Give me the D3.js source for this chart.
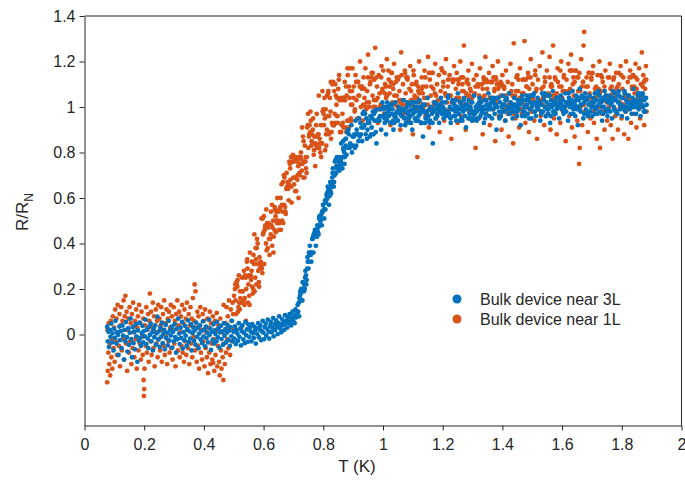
<!DOCTYPE html>
<html>
<head>
<meta charset="utf-8">
<script src="https://cdn.jsdelivr.net/npm/d3@7"></script>
<style>
  body { margin: 0; background: #fff; }
  svg { font-family: "Liberation Sans", Arial, Helvetica, sans-serif; }
</style>
</head>
<body>
<svg id="chart"></svg>
<script>
// tick values / labels
const xTicks = [0, 0.2, 0.4, 0.6, 0.8, 1, 1.2, 1.4, 1.6, 1.8, 2];
const yTicks = [0, 0.2, 0.4, 0.6, 0.8, 1, 1.2, 1.4];
const seriesNames = ['Bulk device near 3L', 'Bulk device near 1L'];
const seriesColors = ['#0072BD', '#D95319'];

// [T (K), R/RN], device near 3L
const near3L = [
  [.076,.034],[.078,-.03],[.080,.012],[.082,-.055],[.085,.02],[.087,-.01],[.090,.048],[.092,-.035],[.094,.005],[.097,-.07],[.099,.025],[.102,-.015],[.104,.06],[.107,-.04],[.109,.01],[.112,-.002],[.114,-.09],[.117,.035],[.119,-.025],[.122,.015],[.124,-.06],[.127,.04],[.129,-.005],[.132,-.11],[.134,.02],[.137,-.03],[.139,.055],[.142,-.012],[.144,-.075],[.147,.028],[.149,-.045],[.152,.008],[.154,.07],[.157,-.02],[.159,-.1],[.162,.032],[.164,-.038],[.167,.012],[.169,-.065],[.172,.045],[.174,-.008],[.177,-.12],[.179,.018],[.182,-.028],[.184,.052],[.187,-.015],[.189,-.05],[.192,.006],[.194,.038],[.197,-.035],[.199,.015],
  [.202,-.008],[.204,.065],[.207,-.042],[.209,.022],[.212,-.018],[.214,-.06],[.217,.035],[.219,-.002],[.222,.048],[.224,-.03],[.227,.01],[.229,-.07],[.232,.025],[.234,-.012],[.237,.04],[.239,-.045],[.242,.005],[.244,.078],[.247,-.022],[.249,.014],[.252,-.055],[.254,.03],[.257,-.01],[.259,.052],[.262,-.038],[.264,.002],[.267,.02],[.269,-.065],[.272,.042],[.274,-.016],[.277,.008],[.279,-.048],[.282,.06],[.284,-.026],[.287,.018],[.289,-.004],[.292,.034],[.294,-.058],[.297,.012],[.299,-.03],
  [.302,.045],[.304,-.012],[.307,-.08],[.309,.025],[.312,-.02],[.314,.07],[.317,.004],[.319,-.042],[.322,.03],[.324,-.015],[.327,.055],[.329,-.062],[.332,.01],[.334,-.025],[.337,.038],[.339,-.005],[.342,-.05],[.344,.022],[.347,.062],[.349,-.034],[.352,.014],[.354,-.018],[.357,.046],[.359,-.07],[.362,.006],[.364,.032],[.367,-.028],[.369,.018],[.372,-.045],[.374,.052],[.377,-.01],[.379,.028],[.382,-.06],[.384,.004],[.387,.04],[.389,-.022],[.392,.015],[.394,-.038],[.397,.058],[.399,-.008],
  [.402,.022],[.404,-.052],[.407,.034],[.409,-.015],[.412,.008],[.414,-.035],[.417,.065],[.419,-.002],[.422,.026],[.424,-.068],[.427,.012],[.429,-.024],[.432,.045],[.434,-.04],[.437,.018],[.439,.002],[.442,-.03],[.444,.055],[.447,-.012],[.449,.028],[.452,-.058],[.454,.01],[.457,.038],[.459,-.02],[.462,.014],[.464,-.045],[.467,.05],[.469,-.005],[.472,.024],[.474,-.035],[.477,.008],[.479,.042],[.482,-.025],[.484,.016],[.487,-.05],[.489,.032],[.492,-.008],[.494,.06],[.497,-.03],[.499,.012],
  [.502,-.018],[.504,.036],[.507,-.042],[.509,.02],[.512,.004],[.514,-.028],[.517,.05],[.519,-.01],[.522,.026],[.524,-.048],[.527,.014],[.529,.04],[.532,-.022],[.534,.008],[.537,-.038],[.539,.055],[.542,-.004],[.544,.022],[.547,-.032],[.549,.044],
  [.552,-.01],[.554,.03],[.557,.012],[.559,-.03],[.562,.045],[.564,.005],[.567,-.015],[.569,.035],[.572,.018],[.574,-.04],[.577,.028],[.579,.002],[.582,.05],[.584,-.012],[.587,.022],[.589,.04],[.592,-.025],[.594,.015],[.597,.06],[.599,.008],[.602,-.02],[.604,.032],[.607,.048],[.609,-.005],[.612,.025],[.614,.065],[.617,.012],[.619,-.018],[.622,.038],[.624,.055],[.627,.01],[.629,.03],[.632,.072],[.634,-.008],[.637,.045],[.639,.02],[.642,.062],[.644,.035],[.647,.002],[.649,.05],
  [.652,.08],[.654,.028],[.657,.045],[.659,.01],[.662,.068],[.664,.04],[.667,.055],[.669,.02],[.672,.085],[.674,.048],[.677,.062],[.679,.03],[.682,.075],[.684,.05],[.687,.09],[.689,.058],[.692,.04],[.694,.072],[.697,.1],[.699,.06],[.702,.082],[.704,.05],[.707,.11],[.709,.075],[.712,.095],[.714,.13],[.716,.1],
  [.718,.14],[.720,.16],[.722,.17],[.724,.18],[.726,.20],[.728,.19],[.730,.15],[.732,.20],[.734,.20],[.736,.22],[.738,.20],[.740,.28],[.742,.26],[.744,.24],[.746,.29],[.748,.32],[.750,.29],[.752,.36],[.754,.35],[.756,.36],
  [.758,.35],[.760,.32],[.762,.36],[.764,.42],[.766,.43],[.768,.44],[.770,.43],[.772,.46],[.774,.45],[.776,.46],[.778,.46],[.780,.48],[.782,.45],[.784,.44],[.786,.51],[.788,.48],[.790,.50],[.792,.51],[.794,.53],[.796,.54],
  [.798,.54],[.800,.57],[.802,.55],[.804,.55],[.806,.59],[.808,.58],[.810,.59],[.812,.62],[.814,.60],[.816,.63],[.818,.64],[.820,.62],[.822,.61],[.824,.63],[.826,.62],[.828,.65],[.830,.69],[.832,.73],[.834,.67],[.836,.67],
  [.838,.70],[.840,.71],[.842,.77],[.844,.74],[.846,.78],[.848,.74],[.850,.76],[.852,.74],[.854,.72],[.856,.75],[.858,.76],[.860,.84],[.862,.75],[.864,.73],[.866,.85],[.868,.81],[.870,.80],[.872,.78],[.874,.86],[.876,.86],
  [.878,.79],[.880,.89],[.882,.82],[.884,.90],[.886,.88],[.888,.82],[.890,.84],[.892,.83],[.894,.92],[.896,.80],[.898,.87],[.900,.83],[.902,.87],[.904,.88],[.906,.82],[.908,.94],[.910,.83],[.912,.90],[.914,.88],[.916,.88],
  [.918,.85],[.920,.95],[.922,.87],[.924,.93],[.926,.88],[.928,.91],[.930,.85],[.932,.97],[.934,.91],[.936,.98],[.938,.92],[.940,.97],[.942,.88],[.944,.95],[.946,.86],[.948,.90],[.950,.93],[.952,.94],[.954,.93],[.956,.87],
  [.958,.96],[.960,.88],[.962,.91],[.964,.95],[.966,.98],[.968,.88],[.970,.97],[.972,.94],[.974,.98],[.976,.89],[.978,.99],[.978,.84],[.980,.94],[.982,.94],[.984,.94],[.986,.95],[.988,.94],[.990,.96],[.992,.99],[.994,.90],[.996,.96],[.998,1.02],
  [1.002,.99],[1.005,.95],[1.008,.97],[1.010,.88],[1.011,1.0],[1.014,.94],[1.017,.98],[1.020,.96],[1.023,1.01],[1.026,.93],[1.029,.97],[1.032,.99],[1.035,.9],[1.038,.96],[1.041,1.02],[1.044,.95],[1.047,.98],[1.050,.94],[1.053,1.0],[1.056,.97],[1.059,.92],[1.062,.99],[1.065,.96],[1.068,1.03],[1.071,.95],[1.074,.98],[1.077,.93],[1.080,1.0],[1.083,.97],[1.086,.95],[1.089,1.01],[1.092,.96],[1.095,.99],[1.098,.9],
  [1.101,.97],[1.104,1.02],[1.107,.95],[1.110,.98],[1.113,.94],[1.116,1.0],[1.119,.96],[1.122,1.03],[1.125,.97],[1.128,.93],[1.131,.99],[1.134,.87],[1.137,.98],[1.140,1.01],[1.143,.95],[1.146,.97],[1.149,1.04],[1.152,.96],[1.155,.99],[1.158,.94],[1.161,1.0],[1.164,.97],[1.167,.84],[1.170,.98],[1.173,1.02],[1.176,.95],[1.179,.99],[1.182,.96],[1.185,1.01],[1.188,.93],[1.191,.98],[1.194,1.04],[1.197,.97],
  [1.200,1.0],[1.203,.95],[1.206,.99],[1.209,1.02],[1.212,.96],[1.215,.98],[1.218,1.05],[1.221,.97],[1.224,1.0],[1.227,.93],[1.230,.99],[1.233,1.03],[1.236,.96],[1.239,1.01],[1.242,.98],[1.245,.94],[1.248,1.0],[1.251,1.06],[1.254,.97],[1.257,.99],[1.260,1.02],[1.263,.95],[1.266,1.0],[1.269,.98],[1.272,1.04],[1.275,.96],[1.278,.91],[1.281,1.01],[1.284,.99],[1.287,1.03],[1.290,.97],[1.293,1.0],[1.296,.95],[1.299,1.02],
  [1.302,.98],[1.305,1.05],[1.308,.97],[1.311,1.0],[1.314,.94],[1.317,1.01],[1.320,.99],[1.323,1.04],[1.326,.96],[1.329,1.02],[1.332,.98],[1.335,1.0],[1.338,.93],[1.341,1.03],[1.344,.97],[1.347,1.01],[1.350,.99],[1.353,1.06],[1.356,.96],[1.359,1.0],[1.362,1.02],[1.365,.95],[1.368,.99],[1.371,1.03],[1.374,.97],[1.377,1.01],[1.380,.9],[1.383,1.0],[1.386,1.04],[1.389,.98],[1.392,1.02],[1.395,.96],[1.398,1.0],
  [1.401,1.05],[1.404,.98],[1.407,1.01],[1.410,.94],[1.413,1.03],[1.416,.99],[1.419,1.0],[1.422,1.06],[1.425,.97],[1.428,1.02],[1.431,.99],[1.434,.95],[1.437,1.01],[1.440,1.04],[1.443,.98],[1.446,1.0],[1.449,.96],[1.452,1.03],[1.455,.99],[1.458,1.01],[1.461,.92],[1.464,1.02],[1.467,1.05],[1.470,.98],[1.473,1.0],[1.476,.96],[1.479,1.03],[1.482,1.01],[1.485,.97],[1.488,1.04],[1.491,.99],[1.494,1.02],[1.497,.95],
  [1.500,1.01],[1.503,1.05],[1.506,.98],[1.509,1.02],[1.512,.96],[1.515,1.0],[1.518,1.04],[1.521,.99],[1.524,1.02],[1.527,.94],[1.530,1.01],[1.533,1.06],[1.536,.98],[1.539,1.03],[1.542,1.0],[1.545,.96],[1.548,1.02],[1.551,1.05],[1.554,.99],[1.557,1.01],[1.560,.93],[1.563,1.03],[1.566,1.0],[1.569,1.07],[1.572,.98],[1.575,1.02],[1.578,.97],[1.581,1.04],[1.584,1.0],[1.587,1.02],[1.590,.95],[1.593,1.01],[1.596,1.05],[1.599,.99],
  [1.602,1.03],[1.605,.97],[1.608,1.0],[1.611,1.06],[1.614,.98],[1.617,1.02],[1.620,.94],[1.623,1.04],[1.626,1.0],[1.629,.97],[1.632,1.03],[1.635,1.07],[1.638,.99],[1.641,1.02],[1.644,.96],[1.647,1.05],[1.650,1.0],[1.653,.92],[1.656,1.03],[1.659,1.08],[1.662,.98],[1.665,1.01],[1.668,1.04],[1.671,.95],[1.674,1.02],[1.677,1.06],[1.680,.99],[1.683,1.03],[1.686,.97],[1.689,1.01],[1.692,1.05],[1.695,.98],[1.698,1.02],
  [1.701,.96],[1.704,1.04],[1.707,1.0],[1.710,1.06],[1.713,.99],[1.716,1.03],[1.719,.97],[1.722,1.01],[1.725,1.05],[1.728,.98],[1.731,1.02],[1.734,.94],[1.737,1.04],[1.740,1.0],[1.743,1.07],[1.746,.99],[1.749,1.03],[1.752,.96],[1.755,1.02],[1.758,1.05],[1.761,.98],[1.764,1.01],[1.767,.95],[1.770,1.04],[1.773,1.0],[1.776,1.06],[1.779,.98],[1.782,1.03],[1.785,.97],[1.788,1.02],[1.791,1.05],[1.794,.99],[1.797,1.01],
  [1.800,.96],[1.803,1.04],[1.806,1.0],[1.809,1.07],[1.812,.98],[1.815,1.03],[1.818,.95],[1.821,1.02],[1.824,1.05],[1.827,.99],[1.830,1.01],[1.833,.97],[1.836,1.04],[1.839,1.08],[1.842,1.0],[1.845,1.03],[1.848,.97],[1.851,1.02],[1.854,1.06],[1.857,.99],[1.860,1.03],[1.863,.96],[1.866,1.01],[1.869,1.05],[1.872,1.0],[1.875,1.03],[1.878,.98],[1.881,1.04],[1.883,1.01],
  // second sweep, transition
  [.719,.08],[.723,.19],[.727,.15],[.731,.23],[.735,.19],[.739,.25],[.743,.22],[.747,.34],[.751,.32],[.755,.39],[.759,.36],[.763,.42],[.767,.36],[.771,.45],[.775,.39],[.779,.43],[.783,.47],[.787,.52],[.791,.50],[.795,.48],
  [.799,.57],[.803,.51],[.807,.55],[.811,.61],[.815,.65],[.819,.57],[.823,.67],[.827,.66],[.831,.71],[.835,.65],[.839,.76],[.843,.71],[.847,.73],[.851,.73],[.855,.78],[.859,.77],[.863,.78],[.867,.82],[.871,.75],[.875,.83],
  // second sweep, normal state
  [1.002,1.00],[1.006,.93],[1.010,.95],[1.014,1.02],[1.018,1.00],[1.022,.99],[1.026,.93],[1.030,1.01],[1.034,.94],[1.038,.93],[1.042,.97],[1.046,.94],[1.050,.98],[1.054,.98],[1.058,.98],[1.062,.96],[1.066,.99],[1.070,.99],[1.074,.92],[1.078,.95],
  [1.082,1.02],[1.086,.98],[1.090,.93],[1.094,.93],[1.098,1.02],[1.102,.98],[1.106,1.00],[1.110,.94],[1.114,1.02],[1.118,.94],[1.122,.98],[1.126,1.00],[1.130,.93],[1.134,1.01],[1.138,.98],[1.142,.93],[1.146,.98],[1.150,.96],[1.154,.94],[1.158,.93],
  [1.162,.99],[1.166,.93],[1.170,.99],[1.174,1.02],[1.178,1.01],[1.182,.97],[1.186,.99],[1.190,.98],[1.194,1.00],[1.198,1.02],[1.202,.98],[1.206,.97],[1.210,.97],[1.214,.97],[1.218,1.04],[1.222,.96],[1.226,.95],[1.230,.99],[1.234,1.02],[1.238,.99],
  [1.242,.96],[1.246,1.03],[1.250,.99],[1.254,.97],[1.258,.94],[1.262,1.01],[1.266,.94],[1.270,1.03],[1.274,.99],[1.278,1.01],[1.282,1.01],[1.286,.95],[1.290,.95],[1.294,.99],[1.298,.94],[1.302,.97],[1.306,.95],[1.310,.98],[1.314,.98],[1.318,.95],
  [1.322,1.02],[1.326,1.00],[1.330,.97],[1.334,.99],[1.338,.99],[1.342,.95],[1.346,1.03],[1.350,.99],[1.354,1.01],[1.358,.99],[1.362,1.04],[1.366,1.02],[1.370,1.04],[1.374,1.01],[1.378,1.00],[1.382,1.04],[1.386,1.04],[1.390,.95],[1.394,.96],[1.398,.98],
  [1.402,1.01],[1.406,.98],[1.410,1.03],[1.414,1.04],[1.418,.99],[1.422,.97],[1.426,1.00],[1.430,1.00],[1.434,1.00],[1.438,.98],[1.442,1.01],[1.446,1.00],[1.450,.98],[1.454,1.01],[1.458,1.02],[1.462,1.03],[1.466,.96],[1.470,1.03],[1.474,.98],[1.478,1.00],
  [1.482,1.05],[1.486,1.03],[1.490,.95],[1.494,1.05],[1.498,1.00],[1.502,1.05],[1.506,1.06],[1.510,.98],[1.514,1.01],[1.518,1.02],[1.522,1.02],[1.526,1.01],[1.530,.97],[1.534,.98],[1.538,1.05],[1.542,1.06],[1.546,.96],[1.550,.99],[1.554,.97],[1.558,1.05],
  [1.562,.96],[1.566,1.01],[1.570,.98],[1.574,.97],[1.578,1.01],[1.582,.99],[1.586,1.04],[1.590,1.00],[1.594,1.02],[1.598,1.01],[1.602,1.03],[1.606,.99],[1.610,.98],[1.614,1.02],[1.618,1.01],[1.622,1.06],[1.626,1.02],[1.630,1.01],[1.634,1.00],[1.638,.97],
  [1.642,1.01],[1.646,1.03],[1.650,.99],[1.654,1.04],[1.658,.99],[1.662,1.01],[1.666,1.05],[1.670,1.04],[1.674,.97],[1.678,1.04],[1.682,1.04],[1.686,.96],[1.690,.98],[1.694,.98],[1.698,1.00],[1.702,1.00],[1.706,1.02],[1.710,.97],[1.714,1.00],[1.718,1.06],
  [1.722,1.07],[1.726,.98],[1.730,1.03],[1.734,1.00],[1.738,.97],[1.742,1.03],[1.746,1.05],[1.750,.98],[1.754,.99],[1.758,1.03],[1.762,1.02],[1.766,1.02],[1.770,1.07],[1.774,.99],[1.778,1.03],[1.782,.98],[1.786,1.05],[1.790,1.07],[1.794,1.01],[1.798,1.04],
  [1.802,1.04],[1.806,.99],[1.810,1.06],[1.814,1.00],[1.818,1.02],[1.822,1.05],[1.826,1.00],[1.830,1.01],[1.834,1.02],[1.838,1.00],[1.842,1.02],[1.846,1.01],[1.850,1.00],[1.854,1.05],[1.858,1.06],[1.862,1.01],[1.866,1.03],[1.870,1.06],[1.874,.98],[1.878,.98]
];

// [T (K), R/RN], device near 1L
const near1L = [
  [.076,-.21],[.077,.02],[.078,-.16],[.080,-.08],[.081,.05],[.083,-.13],[.085,-.04],[.086,-.18],[.088,.06],[.090,-.1],[.091,-.02],[.093,-.15],[.095,.08],[.097,-.06],[.099,.03],[.101,-.12],[.103,.11],[.105,-.03],[.107,.07],[.109,-.09],[.111,.13],[.113,.01],[.115,-.05],[.117,.09],[.119,-.14],[.121,.04],[.123,.12],[.125,-.07],[.127,.06],[.129,-.02],[.131,.15],[.133,-.11],[.135,.08],[.137,.17],[.139,-.04],[.141,.1],[.143,-.16],[.145,.02],[.147,.07],[.149,-.08],
  [.151,.12],[.153,-.03],[.155,.05],[.157,-.13],[.159,.09],[.161,-.06],[.163,.14],[.165,.01],[.167,-.1],[.169,.06],[.171,-.02],[.173,.11],[.175,-.15],[.177,.03],[.179,.08],[.181,-.07],[.183,.13],[.185,-.04],[.187,.05],[.189,-.11],[.191,.1],[.193,-.01],[.195,-.09],[.197,.07],[.198,-.2],[.199,-.27],[.200,-.24],[.201,-.15],
  [.203,.04],[.205,-.05],[.207,.12],[.209,-.08],[.211,.02],[.213,.09],[.215,-.12],[.217,.06],[.219,.18],[.221,-.03],[.223,.1],[.225,-.09],[.227,.03],[.229,.14],[.231,-.06],[.233,.08],[.235,-.14],[.237,.01],[.239,.11],[.241,-.04],[.243,.06],[.245,-.1],[.247,.13],[.249,-.02],[.251,.07],[.253,-.07],[.255,.04],[.257,.12],[.259,-.12],[.261,.02],[.263,.09],[.265,-.05],[.267,.15],[.269,-.09],[.271,.05],[.273,-.01],[.275,.11],[.277,-.13],[.279,.07],[.281,-.03],[.283,.1],[.285,-.08],[.287,.03],[.289,.13],[.291,-.06],[.293,.08],[.295,-.11],[.297,.02],[.299,.12],
  [.301,-.04],[.303,.06],[.305,-.14],[.307,.09],[.309,-.02],[.311,.15],[.313,-.07],[.315,.04],[.317,.1],[.319,-.1],[.321,.01],[.323,.08],[.325,-.05],[.327,.13],[.329,-.08],[.331,.05],[.333,-.12],[.335,.11],[.337,-.03],[.339,.07],[.341,-.09],[.343,.14],[.345,.02],[.347,-.06],[.349,.09],[.351,-.13],[.353,.04],[.355,.12],[.357,-.04],[.359,.07],[.361,-.1],[.363,.16],[.365,-.01],[.367,.06],[.369,.22],[.371,-.07],[.372,.19],[.374,.03],[.376,-.12],[.378,.1],[.380,-.05],[.382,.08],[.384,-.15],[.386,.04],[.388,.12],[.390,-.08],[.392,.02],[.394,-.11],[.396,.09],[.398,-.03],
  [.400,.06],[.402,-.14],[.404,.11],[.406,-.06],[.408,.01],[.410,-.1],[.412,.07],[.414,-.17],[.416,.03],[.418,-.08],[.420,.1],[.422,-.13],[.424,.05],[.426,-.04],[.428,-.11],[.430,.08],[.431,-.125],[.433,-.02],[.435,-.16],[.437,.06],[.439,-.09],[.441,.02],[.443,.095],[.445,-.14],[.447,-.05],[.449,.04],[.451,-.12],[.453,-.18],[.455,.07],[.457,-.07],[.459,-.15],[.461,.01],[.463,-.1],[.465,-.2],[.466,.13],[.468,-.04],[.470,-.13],[.472,.05],[.474,-.08],[.476,.12],[.478,-.02],[.480,.08],[.482,-.06],[.484,.15],[.486,.03],[.488,-.09],[.490,.11],[.492,.06],[.494,-.03],[.496,.14],[.498,.09],
  [.500,.02],[.502,.03],[.504,.20],[.506,.15],[.508,.09],[.510,.22],[.512,.21],[.514,.10],[.516,.12],[.518,.14],[.520,.11],[.522,.16],[.524,.14],[.526,.14],[.528,.25],[.530,.19],[.532,.14],[.534,.28],[.536,.13],[.538,.26],
  [.540,.25],[.542,.20],[.544,.32],[.546,.29],[.548,.14],[.550,.26],[.552,.17],[.554,.36],[.556,.25],[.558,.24],[.560,.28],[.562,.21],[.564,.18],[.566,.35],[.568,.31],[.570,.19],[.572,.25],[.574,.33],[.576,.22],[.578,.42],
  [.580,.40],[.582,.28],[.584,.23],[.586,.34],[.588,.29],[.590,.32],[.592,.30],[.594,.29],[.596,.27],[.598,.44],[.600,.45],[.602,.31],[.604,.46],[.606,.48],[.608,.40],[.610,.37],[.612,.49],[.614,.38],[.616,.47],[.618,.42],
  [.620,.35],[.622,.42],[.624,.44],[.626,.48],[.628,.57],[.630,.47],[.632,.50],[.634,.43],[.636,.46],[.638,.55],[.640,.52],[.642,.54],[.644,.50],[.646,.60],[.648,.49],[.650,.54],[.652,.46],[.654,.49],[.656,.56],[.658,.46],
  [.660,.66],[.662,.50],[.664,.54],[.666,.49],[.668,.70],[.670,.69],[.672,.56],[.674,.53],[.676,.64],[.678,.65],[.680,.67],[.682,.64],[.684,.59],[.686,.76],[.688,.75],[.690,.68],[.692,.78],[.694,.58],[.696,.76],[.698,.79],
  [.700,.69],[.702,.66],[.704,.78],[.706,.63],[.708,.78],[.710,.77],[.712,.76],[.714,.70],[.716,.74],[.718,.78],[.720,.71],[.722,.75],[.724,.78],[.726,.77],[.728,.72],[.730,.75],[.732,.87],[.734,.85],[.736,.76],[.738,.83],
  [.740,.76],[.742,.73],[.744,.71],[.746,.91],[.748,.92],[.750,.82],[.752,.87],[.754,.92],[.756,.89],[.758,.94],[.760,.83],[.762,.88],[.764,.84],[.766,.95],[.768,.79],[.770,.87],[.772,.87],[.774,.84],[.776,.92],[.778,.97],
  [.780,.82],[.782,.88],[.784,.88],[.786,.82],[.788,.86],[.790,.80],[.792,.92],[.794,.84],[.796,.84],[.798,.98],[.800,.99],[.802,.92],[.804,1.04],[.806,.81],[.808,.99],[.810,.83],[.812,.90],[.814,.96],[.816,1.06],[.818,.88],
  [.820,.96],[.822,1.04],[.824,.98],[.826,.86],[.828,.89],[.830,1.10],[.832,.92],[.834,.92],[.836,.92],[.838,.97],[.840,1.10],[.842,1.05],[.844,1.01],[.846,1.04],[.848,.96],[.850,1.08],[.852,1.12],[.854,1.03],[.856,.89],[.858,1.04],
  [.860,.89],[.862,.92],[.864,.97],[.866,1.04],[.868,.91],[.870,1.03],[.872,1.11],[.874,.91],[.876,1.09],[.878,1.05],[.880,.94],[.882,1.14],[.884,.94],[.886,1.09],[.888,1.04],[.890,1.17],[.892,.95],[.894,.94],[.896,1.07],[.898,1.17],
  [.902,1.09],[.905,.98],[.908,1.14],[.911,1.03],[.914,.95],[.917,1.11],[.920,1.05],[.923,1.2],[.926,1.0],[.929,1.08],[.932,.94],[.935,1.13],[.938,1.04],[.941,1.17],[.944,.99],[.947,1.07],[.950,1.23],[.953,1.02],[.956,1.1],[.959,.96],[.962,1.15],[.965,1.05],[.968,1.0],[.971,1.12],[.974,1.26],[.977,1.03],[.980,1.09],[.983,.93],[.986,1.14],[.989,1.06],[.992,1.01],[.995,1.18],[.998,1.08],
  [1.001,1.16],[1.004,.97],[1.007,1.1],[1.010,1.04],[1.013,1.21],[1.016,.99],[1.019,1.12],[1.022,1.06],[1.025,.92],[1.028,1.15],[1.031,1.02],[1.034,1.08],[1.037,1.19],[1.040,.96],[1.043,1.11],[1.046,1.05],[1.049,1.0],[1.052,1.13],[1.055,1.07],[1.058,.9],[1.061,1.24],[1.064,1.03],[1.067,1.1],[1.070,.97],[1.073,1.16],[1.076,1.06],[1.079,1.01],[1.082,1.12],[1.085,.94],[1.088,1.08],[1.091,1.18],[1.094,1.03],[1.097,1.1],
  [1.100,.88],[1.103,1.14],[1.106,1.05],[1.109,.99],[1.112,1.11],[1.115,.78],[1.118,1.07],[1.121,1.2],[1.124,1.02],[1.127,.93],[1.130,1.13],[1.133,1.06],[1.136,1.0],[1.139,1.16],[1.142,.96],[1.145,1.09],[1.148,1.04],[1.151,1.22],[1.154,.91],[1.157,1.12],[1.160,1.05],[1.163,.98],[1.166,1.15],[1.169,1.08],[1.172,1.01],[1.175,1.19],[1.178,.95],[1.181,1.1],[1.184,1.03],[1.187,1.14],[1.190,.89],[1.193,1.07],[1.196,1.17],[1.199,1.0],
  [1.202,1.11],[1.205,.94],[1.208,1.06],[1.211,1.21],[1.214,1.02],[1.217,1.09],[1.220,.97],[1.223,1.14],[1.226,1.05],[1.229,.86],[1.232,1.12],[1.235,1.03],[1.238,1.18],[1.241,.99],[1.244,1.08],[1.247,1.15],[1.250,.93],[1.253,1.1],[1.256,1.04],[1.259,1.2],[1.262,.96],[1.265,1.07],[1.268,1.13],[1.271,1.27],[1.274,1.01],[1.277,.9],[1.280,1.11],[1.283,1.05],[1.286,1.16],[1.289,.98],[1.292,1.08],[1.295,1.02],[1.298,1.19],
  [1.301,.94],[1.304,1.12],[1.307,1.06],[1.310,.82],[1.313,1.14],[1.316,1.0],[1.319,1.09],[1.322,.95],[1.325,1.17],[1.328,1.03],[1.331,1.1],[1.334,.88],[1.337,1.13],[1.340,1.05],[1.343,1.22],[1.346,.97],[1.349,1.08],[1.352,1.01],[1.355,1.15],[1.358,.92],[1.361,1.11],[1.364,1.04],[1.367,1.18],[1.370,.99],[1.373,1.07],[1.376,.85],[1.379,1.12],[1.382,1.02],[1.385,1.2],[1.388,.96],[1.391,1.09],[1.394,1.05],[1.397,.9],
  [1.400,1.14],[1.403,1.0],[1.406,1.08],[1.409,.94],[1.412,1.16],[1.415,1.03],[1.418,1.11],[1.421,.87],[1.424,1.06],[1.427,1.19],[1.430,.98],[1.433,1.1],[1.436,.84],[1.438,1.28],[1.441,1.04],[1.444,.95],[1.447,1.13],[1.450,1.01],[1.453,1.07],[1.456,.91],[1.459,1.17],[1.462,1.03],[1.465,.97],[1.468,1.12],[1.471,1.06],[1.474,1.29],[1.477,.93],[1.480,1.09],[1.483,1.0],[1.486,1.15],[1.489,.89],[1.492,1.05],[1.495,1.21],[1.498,.98],
  [1.501,1.1],[1.504,1.03],[1.507,.94],[1.510,1.14],[1.513,1.07],[1.516,.86],[1.519,1.12],[1.522,1.01],[1.525,1.18],[1.528,.96],[1.531,1.08],[1.534,1.24],[1.537,1.04],[1.540,.92],[1.543,1.11],[1.546,1.0],[1.549,1.16],[1.552,.97],[1.555,1.06],[1.558,1.22],[1.561,.9],[1.564,1.1],[1.567,1.03],[1.570,1.27],[1.573,.95],[1.576,1.13],[1.579,1.05],[1.582,.88],[1.585,1.17],[1.588,1.01],[1.591,1.09],[1.594,.93],[1.597,1.2],
  [1.600,1.04],[1.603,.98],[1.606,1.14],[1.609,1.07],[1.612,.85],[1.615,1.12],[1.618,1.02],[1.621,1.19],[1.624,.96],[1.627,1.08],[1.630,1.23],[1.633,.91],[1.636,1.1],[1.639,1.05],[1.642,.87],[1.645,1.16],[1.648,1.0],[1.651,.94],[1.654,1.13],[1.657,.75],[1.659,.82],[1.661,1.07],[1.664,1.21],[1.667,.92],[1.670,1.11],[1.672,1.27],[1.674,1.33],[1.677,.98],[1.680,1.09],[1.683,1.03],[1.686,.89],[1.689,1.15],[1.692,1.06],[1.695,.95],[1.698,1.12],
  [1.701,1.01],[1.704,1.18],[1.707,.93],[1.710,1.08],[1.713,1.04],[1.716,.86],[1.719,1.14],[1.722,1.0],[1.725,1.2],[1.727,.82],[1.730,1.07],[1.733,.97],[1.736,1.11],[1.739,1.03],[1.742,.9],[1.745,1.16],[1.748,1.05],[1.751,.94],[1.754,1.13],[1.757,1.0],[1.760,1.19],[1.763,.92],[1.766,1.09],[1.769,.86],[1.772,1.12],[1.775,1.04],[1.778,.96],[1.781,1.15],[1.784,1.07],[1.787,.9],[1.790,1.1],[1.793,1.02],[1.796,1.18],[1.799,.95],
  [1.802,1.08],[1.805,1.13],[1.808,.88],[1.811,1.05],[1.814,1.2],[1.817,.99],[1.820,1.11],[1.822,.86],[1.825,1.03],[1.828,1.16],[1.831,.93],[1.834,1.09],[1.837,1.14],[1.840,.97],[1.843,1.06],[1.846,1.19],[1.849,.91],[1.852,1.12],[1.855,1.03],[1.858,1.17],[1.861,.95],[1.864,1.1],[1.867,1.24],[1.869,1.0],[1.872,1.14],[1.875,.92],[1.878,1.08],[1.881,1.18],[1.883,.98],
  // second sweep, transition
  [.501,.17],[.505,.22],[.509,.23],[.513,.24],[.517,.26],[.521,.19],[.525,.03],[.529,.19],[.533,.15],[.537,.16],[.541,.06],[.545,.33],[.549,.22],[.553,.13],[.557,.26],[.561,.32],[.565,.20],[.569,.44],[.573,.38],[.577,.38],
  [.581,.31],[.585,.21],[.589,.31],[.593,.51],[.597,.51],[.601,.52],[.605,.47],[.609,.55],[.613,.48],[.617,.49],[.621,.48],[.625,.54],[.629,.39],[.633,.36],[.637,.56],[.641,.45],[.645,.49],[.649,.50],[.653,.55],[.657,.60],
  [.661,.57],[.665,.67],[.669,.57],[.673,.54],[.677,.71],[.681,.65],[.685,.66],[.689,.73],[.693,.65],[.697,.76],[.701,.76],[.705,.69],[.709,.63],[.713,.68],[.717,.60],[.721,.70],[.725,.80],[.729,.91],[.733,.69],[.737,.69],
  [.741,.78],[.745,.78],[.749,.97],[.753,.88],[.757,.98],[.761,.85],[.765,.90],[.769,.81],[.773,.74],[.777,.83],[.781,.87],[.785,1.05],[.789,.84],[.793,.78],[.797,1.07],[.801,.97],[.805,.95],[.809,.88],[.813,1.05],[.817,1.07],
  [.821,.89],[.825,1.11],[.829,.93],[.833,1.11],[.837,1.07],[.841,.93],[.845,.96],[.849,.93],[.853,1.14],[.857,.89],[.861,1.03],[.865,.93],[.869,1.04],[.873,1.03],[.877,.89],[.881,1.17],[.885,.91],[.889,1.07],[.893,1.01],[.897,1.01],
  // second sweep, normal state
  [.902,1.04],[.906,.99],[.910,1.11],[.914,1.11],[.918,1.05],[.922,1.09],[.926,1.09],[.930,1.09],[.934,1.01],[.938,1.08],[.942,1.00],[.946,1.02],[.950,1.13],[.954,1.00],[.958,1.11],[.962,1.13],[.966,1.15],[.970,1.03],[.974,1.00],[.978,1.13],
  [.982,1.04],[.986,.99],[.990,1.00],[.994,1.13],[.998,1.07],[1.002,1.00],[1.006,1.06],[1.010,1.09],[1.014,1.05],[1.018,1.16],[1.022,1.09],[1.026,1.11],[1.030,1.15],[1.034,1.10],[1.038,1.05],[1.042,1.01],[1.046,1.13],[1.050,1.12],[1.054,1.03],[1.058,1.02],
  [1.062,1.14],[1.066,1.01],[1.070,1.03],[1.074,1.15],[1.078,1.13],[1.082,1.13],[1.086,.98],[1.090,1.01],[1.094,1.07],[1.098,1.01],[1.102,1.16],[1.106,1.04],[1.110,1.10],[1.114,1.04],[1.118,1.09],[1.122,1.06],[1.126,.99],[1.130,1.08],[1.134,1.09],[1.138,1.04],
  [1.142,1.13],[1.146,.98],[1.150,1.01],[1.154,1.15],[1.158,1.15],[1.162,1.09],[1.166,1.15],[1.170,1.02],[1.174,1.06],[1.178,1.05],[1.182,1.01],[1.186,1.00],[1.190,.98],[1.194,1.01],[1.198,1.16],[1.202,1.09],[1.206,1.15],[1.210,1.05],[1.214,.98],[1.218,1.12],
  [1.222,.99],[1.226,1.05],[1.230,1.02],[1.234,1.11],[1.238,1.12],[1.242,1.03],[1.246,1.04],[1.250,1.12],[1.254,1.12],[1.258,1.02],[1.262,1.13],[1.266,1.10],[1.270,1.07],[1.274,1.01],[1.278,1.06],[1.282,1.12],[1.286,1.10],[1.290,1.05],[1.294,1.07],[1.298,1.04],
  [1.302,.97],[1.306,.98],[1.310,1.09],[1.314,1.00],[1.318,1.10],[1.322,1.05],[1.326,1.02],[1.330,1.04],[1.334,1.08],[1.338,1.12],[1.342,1.11],[1.346,1.12],[1.350,1.11],[1.354,1.00],[1.358,1.04],[1.362,1.11],[1.366,1.11],[1.370,1.13],[1.374,1.08],[1.378,1.13],
  [1.382,1.10],[1.386,1.08],[1.390,1.10],[1.394,1.11],[1.398,1.10],[1.402,1.00],[1.406,1.09],[1.410,1.05],[1.414,.99],[1.418,.97],[1.422,1.01],[1.426,1.06],[1.430,1.07],[1.434,1.05],[1.438,.97],[1.442,1.05],[1.446,1.07],[1.450,1.14],[1.454,1.12],[1.458,1.04],
  [1.462,.99],[1.466,1.06],[1.470,1.12],[1.474,1.01],[1.478,1.12],[1.482,1.09],[1.486,1.13],[1.490,1.08],[1.494,1.13],[1.498,1.04],[1.502,1.05],[1.506,.98],[1.510,1.16],[1.514,1.08],[1.518,1.00],[1.522,1.02],[1.526,1.03],[1.530,.98],[1.534,1.01],[1.538,1.09],
  [1.542,1.13],[1.546,1.05],[1.550,1.05],[1.554,1.05],[1.558,1.13],[1.562,1.09],[1.566,1.09],[1.570,1.05],[1.574,1.03],[1.578,1.12],[1.582,1.06],[1.586,1.11],[1.590,1.04],[1.594,1.16],[1.598,1.09],[1.602,1.07],[1.606,1.13],[1.610,1.00],[1.614,1.02],[1.618,1.01],
  [1.622,1.07],[1.626,1.16],[1.630,1.16],[1.634,1.16],[1.638,1.13],[1.642,1.11],[1.646,1.16],[1.650,1.13],[1.654,1.07],[1.658,1.15],[1.662,1.00],[1.666,1.09],[1.670,1.11],[1.674,1.01],[1.678,1.04],[1.682,1.13],[1.686,1.09],[1.690,1.15],[1.694,1.04],[1.698,1.13],
  [1.702,1.15],[1.706,.98],[1.710,1.06],[1.714,1.09],[1.718,1.06],[1.722,1.08],[1.726,1.06],[1.730,1.14],[1.734,1.13],[1.738,.98],[1.742,1.09],[1.746,1.03],[1.750,1.02],[1.754,1.04],[1.758,1.13],[1.762,1.08],[1.766,1.05],[1.770,1.06],[1.774,1.13],[1.778,.99],
  [1.782,1.08],[1.786,1.09],[1.790,1.15],[1.794,1.00],[1.798,1.14],[1.802,1.01],[1.806,1.01],[1.810,1.00],[1.814,.98],[1.818,1.04],[1.822,1.05],[1.826,1.13],[1.830,1.13],[1.834,1.08],[1.838,1.14],[1.842,1.09],[1.846,1.13],[1.850,1.08],[1.854,1.04],[1.858,1.00],
  [1.862,1.05],[1.866,1.01],[1.870,1.09],[1.874,1.11],[1.878,1.12],[1.882,1.12]
];

const WIDTH = 685;
const HEIGHT = 480;
const plot = { left: 84.5, right: 681.5, top: 16, bottom: 425.5 };
const DOT_RADIUS = 2.4;
const AXIS_COLOR = '#262626';

const svg = d3.select('#chart')
  .attr('width', WIDTH)
  .attr('height', HEIGHT);

const x = d3.scaleLinear().domain([0, 2]).range([plot.left, plot.right]);
const y = d3.scaleLinear().domain([-0.4, 1.4]).range([plot.bottom, plot.top]);

// points: 1L underneath, 3L on top
[near1L, near3L].forEach((rows, i) => {
  const color = i === 0 ? seriesColors[1] : seriesColors[0];
  svg.append('g')
    .selectAll('circle')
    .data(rows)
    .join('circle')
    .attr('cx', d => x(d[0]))
    .attr('cy', d => y(d[1]))
    .attr('r', DOT_RADIUS)
    .attr('fill', color);
});

// box (top + right)
svg.append('path')
  .attr('d', `M${plot.left},${plot.top}H${plot.right}V${plot.bottom}`)
  .attr('fill', 'none')
  .attr('stroke', AXIS_COLOR)
  .attr('stroke-width', 1);

const fmt = d => String(+d.toFixed(1));

const xAxis = svg.append('g')
  .attr('transform', `translate(0,${plot.bottom})`)
  .call(d3.axisBottom(x).tickValues(xTicks).tickFormat(fmt).tickSize(5).tickSizeOuter(0));

const yAxis = svg.append('g')
  .attr('transform', `translate(${plot.left},0)`)
  .call(d3.axisLeft(y).tickValues(yTicks).tickFormat(fmt).tickSize(5).tickSizeOuter(0));

[xAxis, yAxis].forEach(axis => {
  axis.select('.domain').attr('stroke', AXIS_COLOR);
  axis.selectAll('.tick line').attr('stroke', AXIS_COLOR);
  axis.selectAll('.tick text')
    .attr('fill', AXIS_COLOR)
    .style('font-size', '16px')
    .style('font-family', '"Liberation Sans", Arial, sans-serif');
});
xAxis.selectAll('.tick text').attr('dy', '1.05em');
yAxis.selectAll('.tick text').attr('x', -9);

// axis titles
svg.append('text')
  .attr('x', 357)
  .attr('y', 472)
  .attr('text-anchor', 'middle')
  .attr('fill', AXIS_COLOR)
  .style('font-size', '17px')
  .text('T (K)');

const yTitle = svg.append('text')
  .attr('transform', 'translate(28,212) rotate(-90)')
  .attr('text-anchor', 'middle')
  .attr('fill', AXIS_COLOR)
  .style('font-size', '17px');
yTitle.append('tspan').text('R/R');
yTitle.append('tspan').attr('dy', 5).style('font-size', '12px').text('N');

// legend
const legend = svg.append('g').attr('transform', 'translate(457,299)');
seriesNames.forEach((name, i) => {
  const row = legend.append('g').attr('transform', `translate(0,${i * 20})`);
  row.append('circle').attr('r', 4.5).attr('fill', seriesColors[i]);
  row.append('text')
    .attr('x', 23)
    .attr('dy', '0.35em')
    .attr('fill', AXIS_COLOR)
    .style('font-size', '16px')
    .text(name);
});
</script>
</body>
</html>
